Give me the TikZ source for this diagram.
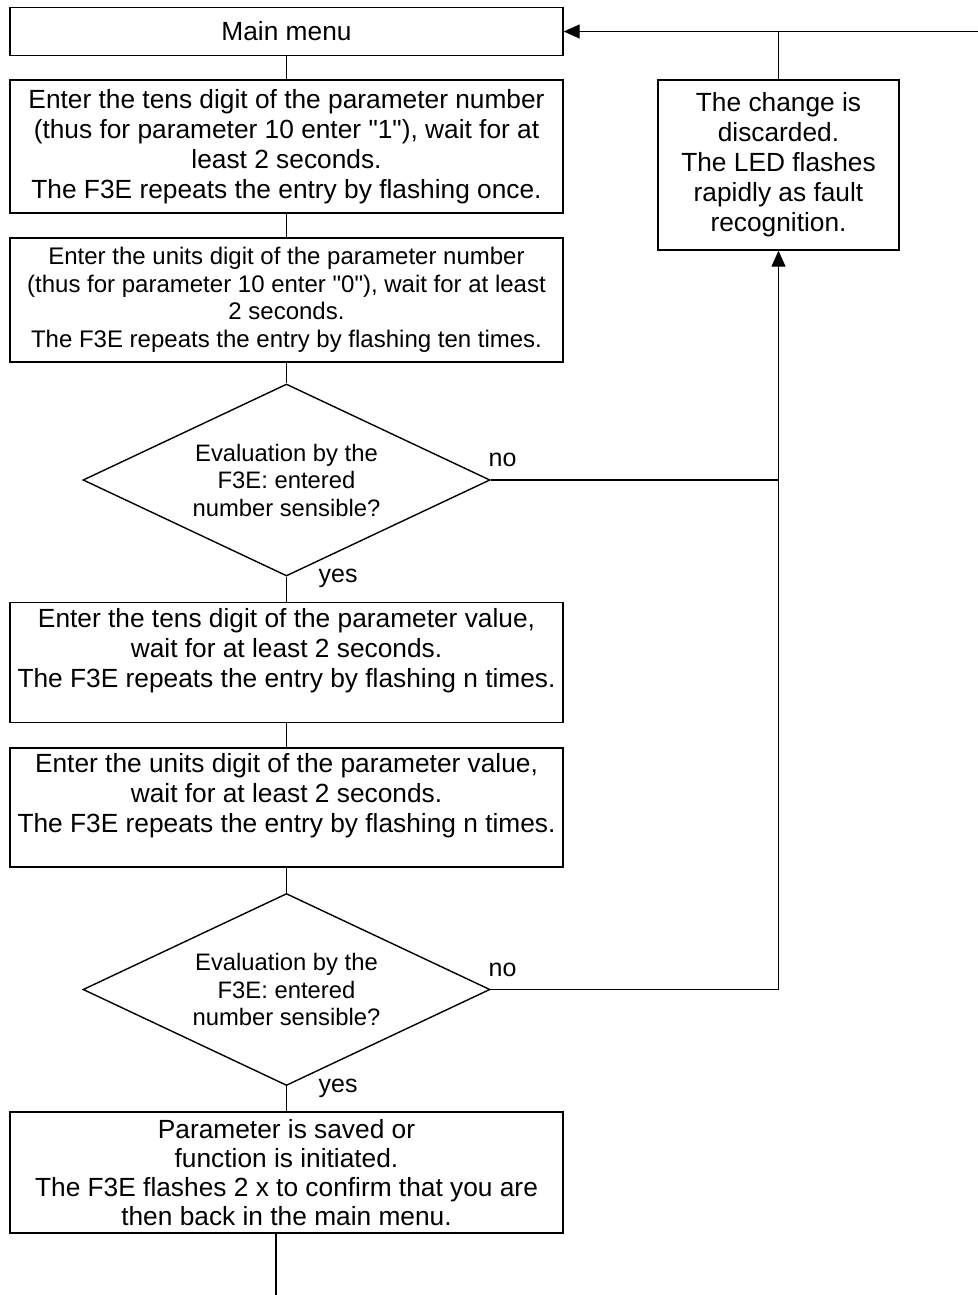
\documentclass[tikz,border=0pt]{standalone}
\usepackage{fontspec}
\setmainfont{Liberation Sans}[Ligatures=TeXOff]
\usetikzlibrary{shapes.geometric,arrows.meta}
\begin{document}
\begin{tikzpicture}[x=0.5pt,y=-0.5pt,line width=0.7pt,
  box/.style={draw,rectangle,minimum width=276.5pt,inner sep=0pt,align=center,
    font=\fontsize{13.15pt}{15pt}\selectfont},
  smallbox/.style={box,font=\fontsize{12pt}{13.75pt}\selectfont},
  decision/.style={draw,diamond,shape aspect=2.12,minimum width=203.5pt,minimum height=96pt,
    inner sep=0pt,align=center,font=\fontsize{11.9pt}{13.75pt}\selectfont},
  lbl/.style={anchor=west,inner sep=0pt,font=\fontsize{12.5pt}{15pt}\selectfont},
  arr/.style={-{Triangle[length=8pt,width=7pt]}}]
\useasboundingbox (0,0) rectangle (978,1295);

\node[box,minimum height=24pt] (main) at (286.5,31.5) {Main menu};
\node[box,minimum height=66.5pt] (b1) at (286.5,146.5) {Enter the tens digit of the parameter number\\(thus for parameter 10 enter "1"), wait for at\\least 2 seconds.\\The F3E repeats the entry by flashing once.};
\node[smallbox,minimum height=62pt] (b2) at (286.5,300) {Enter the units digit of the parameter number\\(thus for parameter 10 enter "0"), wait for at least\\2 seconds.\\The F3E repeats the entry by flashing ten times.};
\node[decision] (d1) at (286.5,480) {Evaluation by the\\F3E: entered\\number sensible?};
\node[box,minimum height=60pt] (b4) at (286.5,662.5) {Enter the tens digit of the parameter value,\\wait for at least 2 seconds.\\The F3E repeats the entry by flashing n times.\\~};
\node[box,minimum height=59.5pt] (b5) at (286.5,807.5) {Enter the units digit of the parameter value,\\wait for at least 2 seconds.\\The F3E repeats the entry by flashing n times.\\~};
\node[decision] (d2) at (286.5,989.5) {Evaluation by the\\F3E: entered\\number sensible?};
\node[box,font=\fontsize{13.15pt}{14.5pt}\selectfont,minimum height=60.5pt] (b7) at (286.5,1172.5) {Parameter is saved or\\function is initiated.\\The F3E flashes 2 x to confirm that you are\\then back in the main menu.};
\node[box,minimum width=120.5pt,minimum height=85pt] (dis) at (778.5,165) {The change is\\discarded.\\The LED flashes\\rapidly as fault\\recognition.};

\node[lbl] (no1) at (488,460) {no};
\node[lbl] (no2) at (488,970) {no};
\node[lbl] (yes1) at (318,578) {yes};
\node[lbl] (yes2) at (318,1088) {yes};

\coordinate (tr) at (978,31.5);
\coordinate (j1) at (dis.south |- d1.east);
\coordinate (j2) at (dis.south |- d2.east);
\coordinate (bend) at (276,1295);

\draw (main.south) -- (b1.north);
\draw (b1.south) -- (b2.north);
\draw (b2.south) -- (d1.north);
\draw (d1.south) -- (b4.north);
\draw (b4.south) -- (b5.north);
\draw (b5.south) -- (d2.north);
\draw (d2.south) -- (b7.north);
\draw (bend |- b7.south) -- (bend);
\draw (d1.east) -- (j1);
\draw[arr] (d2.east) -- (j2) -- (dis.south);
\draw[arr] (tr) -- (main.east);
\draw (dis.north) -- (dis.north |- tr);
\end{tikzpicture}
\end{document}
